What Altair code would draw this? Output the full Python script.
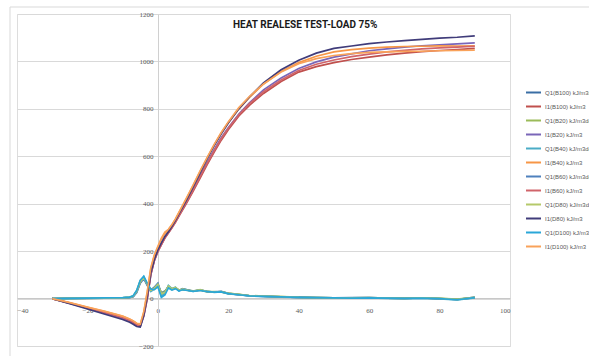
import altair as alt
import pandas as pd

# crank angle (deg)
X = [-30, -25, -20, -15, -10, -8, -7, -6, -5, -4, -3, -2, -1, 0, 1, 2, 3, 4, 5, 6, 7, 8,
     10, 12, 14, 16, 18, 20, 23, 26, 30, 35, 40, 45, 50, 55, 60, 65, 70, 75, 80, 85, 90]

Q_B100 = [0, 1, 2, 2, 3, 5, 9, 28, 68, 86, 58, 34, 46, 62, 18, 28, 52, 40, 46, 34, 40, 37,
          31, 37, 30, 27, 29, 21, 17, 12, 9, 7, 5, 4, 3, 3, 4, 2, 1, 3, 0, -3, 4]
I_B100 = [0, -19, -39, -58, -80, -92, -100, -110, -114, -68, 5, 105, 162, 200, 228, 255, 276, 298, 322, 348, 373, 398,
          452, 508, 565, 618, 668, 712, 770, 815, 865, 915, 955, 978, 995, 1008, 1018, 1028, 1035, 1041, 1046, 1050, 1055]
Q_B20 = [0, 1, 1, 2, 3, 6, 11, 33, 75, 90, 62, 38, 42, 55, 25, 32, 48, 38, 44, 36, 38, 36,
         33, 35, 28, 29, 27, 23, 18, 13, 10, 8, 6, 4, 3, 2, 3, 2, 2, 2, 1, -2, 5]
I_B20 = [0, -20, -41, -62, -84, -97, -104, -115, -118, -75, 0, 100, 160, 200, 230, 258, 280, 302, 326, 352, 378, 404,
         460, 518, 575, 628, 678, 720, 778, 825, 880, 930, 970, 998, 1018, 1032, 1045, 1053, 1060, 1066, 1070, 1074, 1078]
Q_B40 = [0, 1, 2, 3, 3, 5, 10, 30, 72, 92, 60, 30, 40, 58, 10, 20, 55, 42, 48, 33, 42, 38,
         30, 36, 31, 26, 28, 20, 16, 11, 9, 6, 5, 3, 2, 3, 3, 1, 0, 2, -1, -6, 3]
I_B40 = [0, -18, -37, -55, -75, -87, -95, -105, -110, -60, 25, 125, 180, 215, 250, 275, 290, 310, 335, 362, 390, 418,
         475, 535, 592, 648, 698, 742, 800, 848, 905, 958, 995, 1022, 1040, 1050, 1056, 1060, 1063, 1064, 1066, 1065, 1066]
Q_B60 = [0, 1, 1, 2, 2, 4, 8, 25, 65, 84, 55, 36, 48, 65, 22, 30, 50, 39, 45, 35, 41, 38,
         32, 36, 29, 28, 30, 22, 17, 12, 10, 7, 5, 4, 3, 4, 4, 2, 1, 3, 0, -4, 6]
I_B60 = [0, -19, -39, -59, -81, -93, -101, -112, -116, -72, 2, 102, 160, 198, 228, 256, 278, 300, 324, 350, 376, 402,
         456, 514, 570, 624, 674, 718, 775, 822, 872, 922, 962, 988, 1006, 1020, 1031, 1040, 1047, 1053, 1057, 1060, 1064]
Q_D80 = [0, 1, 2, 2, 3, 5, 10, 30, 70, 88, 60, 35, 44, 60, 20, 26, 53, 41, 47, 35, 40, 37,
         31, 38, 30, 27, 29, 22, 18, 12, 10, 8, 5, 4, 3, 3, 4, 2, 1, 3, 1, -3, 5]
I_D80 = [0, -22, -44, -66, -88, -100, -108, -118, -120, -70, 10, 110, 165, 205, 235, 262, 282, 305, 330, 358, 385, 412,
         470, 530, 590, 645, 695, 740, 800, 850, 910, 965, 1005, 1035, 1055, 1065, 1075, 1082, 1088, 1093, 1098, 1102, 1108]
Q_D100 = [0, 1, 2, 3, 4, 6, 12, 35, 78, 94, 64, 40, 38, 50, 5, 15, 45, 36, 42, 32, 37, 35,
          30, 34, 29, 27, 28, 21, 16, 11, 9, 7, 5, 4, 3, 2, 3, 2, 1, 2, 0, -5, 4]
I_D100 = [0, -17, -36, -54, -74, -86, -94, -104, -108, -55, 30, 130, 185, 220, 255, 280, 292, 312, 336, 364, 392, 420,
          478, 538, 595, 650, 700, 745, 805, 852, 905, 955, 990, 1012, 1025, 1033, 1038, 1040, 1042, 1043, 1045, 1046, 1048]

SERIES = ["Q1(B100) kJ/m3deg", "I1(B100) kJ/m3", "Q1(B20) kJ/m3deg", "I1(B20) kJ/m3",
          "Q1(B40) kJ/m3deg", "I1(B40) kJ/m3", "Q1(B60) kJ/m3deg", "I1(B60) kJ/m3",
          "Q1(D80) kJ/m3deg", "I1(D80) kJ/m3", "Q1(D100) kJ/m3deg", "I1(D100) kJ/m3"]
VALUES = [Q_B100, I_B100, Q_B20, I_B20, Q_B40, I_B40, Q_B60, I_B60, Q_D80, I_D80, Q_D100, I_D100]
COLORS = ["#3A6EA5", "#C0504D", "#9BBB59", "#7A66B8", "#4BACC6", "#F79646",
          "#4F81BD", "#D0646A", "#B5C96A", "#403C7A", "#2AA7D8", "#F9A25A"]

Y_TICKS = [-200, 0, 200, 400, 600, 800, 1000, 1200]
X_TICKS = [-40, -20, 0, 20, 40, 60, 80, 100]
TITLE = "HEAT REALESE TEST-LOAD 75%"

rows = []
for si, (name, vals) in enumerate(zip(SERIES, VALUES)):
    for xv, yv in zip(X, vals):
        rows.append({"series": name, "order": si, "x": xv, "y": yv})
df = pd.DataFrame(rows)

W, H = 493, 332

lines = alt.Chart(df).mark_line(strokeWidth=1.7, clip=False).encode(
    x=alt.X("x:Q", scale=alt.Scale(domain=[-40, 100], nice=False),
            axis=alt.Axis(values=X_TICKS, title=None, offset=-48, grid=False, ticks=False,
                          format="d", domainColor="#c8c8c8", labelPadding=8, labelFontSize=7,
                          labelColor="#595959", labelFont="Liberation Serif")),
    y=alt.Y("y:Q", scale=alt.Scale(domain=[-200, 1200], nice=False),
            axis=alt.Axis(values=Y_TICKS, title=None, offset=-141, grid=True, gridColor="#d9d9d9",
                          format="d", ticks=False, domainColor="#d0d0d0", labelPadding=5,
                          labelFontSize=7, labelColor="#595959", labelFont="Liberation Serif")),
    color=alt.Color("series:N", scale=alt.Scale(domain=SERIES, range=COLORS),
                    legend=alt.Legend(title=None, orient="none", legendX=508, legendY=70,
                                      symbolType="stroke", symbolSize=225, symbolStrokeWidth=2,
                                      labelFontSize=6, labelColor="#595959",
                                      labelFont="Liberation Sans", rowPadding=1,
                                      labelOffset=3, labelLimit=200)),
    detail="series:N",
    order="order:Q",
)

frame = alt.Chart(pd.DataFrame({"a": [0]})).mark_rect(
    fill="transparent", stroke="#d9d9d9", strokeWidth=1, clip=False
).encode(x=alt.value(-7), y=alt.value(-7), x2=alt.value(W + 120), y2=alt.value(H + 30))

title = alt.Chart(pd.DataFrame({"t": [TITLE]})).mark_text(
    align="left", baseline="middle", fontSize=10, fontWeight="bold",
    font="Roboto", color="#1a1a1a"
).encode(x=alt.value(216), y=alt.value(11), text="t:N")

chart = alt.layer(frame, lines, title).properties(
    width=W, height=H,
    autosize=alt.AutoSizeParams(type="none"),
    padding={"left": 17, "top": 14, "right": 79, "bottom": 10},
).configure_view(stroke=None).configure(background="white")

chart.save("out.html", embed_options={"renderer": "svg", "actions": False})
